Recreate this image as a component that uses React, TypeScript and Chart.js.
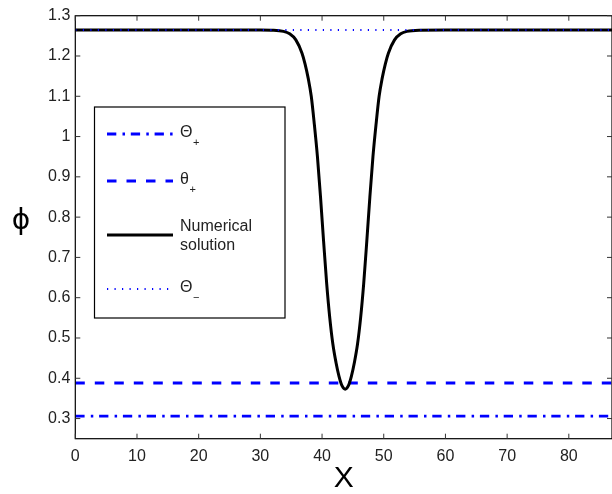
import { useEffect, useRef } from 'react';
import { Chart, registerables } from 'chart.js';

Chart.register(...registerables);

// ---- data ----
const X_MIN = 0;
const X_MAX = 87;
const Y_MIN = 0.25;
const Y_MAX = 1.3;
const X_TICKS = [0, 10, 20, 30, 40, 50, 60, 70, 80];
const Y_TICKS = [0.3, 0.4, 0.5, 0.6, 0.7, 0.8, 0.9, 1.0, 1.1, 1.2, 1.3];

const THETA_PLUS_BIG = 0.306; // Θ+ (dash-dot)
const THETA_PLUS_SMALL = 0.388; // θ+ (dashed)
const THETA_MINUS = 1.2645; // Θ− (dotted)

const NUM_X = [
  0, 10, 20, 30, 31.75, 33.75, 34.75, 35.75, 36.75, 37.25, 37.75, 38.25, 38.75, 39.25, 39.75, 40.25, 40.75,
  41.25, 41.75, 42.25, 42.75, 43.25, 43.75, 44.25, 44.75, 45.25, 45.75, 46.25, 46.75, 47.25, 47.75, 48.25,
  48.75, 49.25, 49.75, 50.25, 50.75, 51.75, 52.75, 53.75, 55.75, 60, 70, 80, 87,
];
const NUM_Y = [
  1.2645, 1.2645, 1.2645, 1.2645, 1.264, 1.261, 1.255, 1.24, 1.207, 1.18, 1.145, 1.1, 1.03, 0.95, 0.85, 0.74, 0.635,
  0.55, 0.485, 0.44, 0.405, 0.381, 0.373, 0.381, 0.405, 0.44, 0.485, 0.55, 0.635, 0.74, 0.85, 0.95,
  1.03, 1.1, 1.145, 1.18, 1.207, 1.24, 1.255, 1.261, 1.264, 1.2645, 1.2645, 1.2645, 1.2645,
];

const BLUE = '#0000ff';
const FONT = "'Liberation Sans', Arial, Helvetica, sans-serif";
const DASH_DOT = [9.3, 6.2, 2.5, 5.8];
const DASHED = [9.5, 10];
const DOTTED = [1.2, 6.3];

const hLine = (v: number) => [
  { x: X_MIN, y: v },
  { x: X_MAX, y: v },
];

const decorPlugin = {
  id: 'decor',
  afterDraw(chart: any) {
    const ctx: CanvasRenderingContext2D = chart.ctx;
    const { left, right, top, bottom } = chart.chartArea;
    const xs = chart.scales.x;
    const ys = chart.scales.y;
    ctx.save();
    // frame
    ctx.strokeStyle = '#000';
    ctx.lineWidth = 1.2;
    ctx.setLineDash([]);
    ctx.strokeRect(left, top, right - left, bottom - top);
    // inward ticks
    ctx.lineWidth = 1;
    ctx.strokeStyle = '#333';
    const tl = 5;
    X_TICKS.forEach((v) => {
      const p = xs.getPixelForValue(v);
      ctx.beginPath();
      ctx.moveTo(p, bottom);
      ctx.lineTo(p, bottom - tl);
      ctx.moveTo(p, top);
      ctx.lineTo(p, top + tl);
      ctx.stroke();
    });
    Y_TICKS.forEach((v) => {
      const p = ys.getPixelForValue(v);
      ctx.beginPath();
      ctx.moveTo(left, p);
      ctx.lineTo(left + tl, p);
      ctx.moveTo(right, p);
      ctx.lineTo(right - tl, p);
      ctx.stroke();
    });

    // axis titles
    ctx.fillStyle = '#000';
    ctx.textAlign = 'center';
    ctx.textBaseline = 'middle';
    ctx.font = `30px ${FONT}`;
    ctx.fillText('X', (left + right) / 2, 479);
    ctx.font = `28px 'DejaVu Sans', ${FONT}`;
    ctx.fillText('\u03D5', 21, 222);

    // legend box
    const bx = 94.5, by = 107, bw = 190.5, bh = 211;
    ctx.fillStyle = '#fff';
    ctx.fillRect(bx, by, bw, bh);
    ctx.strokeStyle = '#000';
    ctx.lineWidth = 1.2;
    ctx.strokeRect(bx, by, bw, bh);

    const x0 = 107, x1 = 173, tx = 180;
    const sample = (y: number, color: string, width: number, dash: number[]) => {
      ctx.strokeStyle = color;
      ctx.lineWidth = width;
      ctx.setLineDash(dash);
      ctx.beginPath();
      ctx.moveTo(x0, y);
      ctx.lineTo(x1, y);
      ctx.stroke();
      ctx.setLineDash([]);
    };
    const sym = (y: number, main: string, sub: string) => {
      ctx.fillStyle = '#222';
      ctx.textAlign = 'left';
      ctx.textBaseline = 'middle';
      ctx.font = `16px ${FONT}`;
      ctx.fillText(main, tx, y);
      const w = ctx.measureText(main).width;
      ctx.font = `11px ${FONT}`;
      ctx.fillText(sub, tx + w + 0.5, y + 10);
    };
    sample(134, BLUE, 2.8, DASH_DOT);
    sym(132.5, '\u0398', '+');
    sample(181, BLUE, 3, DASHED);
    sym(179.5, '\u03B8', '+');
    sample(235, '#000', 3, []);
    ctx.fillStyle = '#222';
    ctx.font = `16px ${FONT}`;
    ctx.textAlign = 'left';
    ctx.textBaseline = 'middle';
    ctx.fillText('Numerical', tx, 227);
    ctx.fillText('solution', tx, 246);
    sample(289, BLUE, 2.2, DOTTED);
    sym(288, '\u0398', '\u2212');
    ctx.restore();
  },
};

export default function App() {
  const canvasRef = useRef<HTMLCanvasElement | null>(null);

  useEffect(() => {
    const canvas = canvasRef.current;
    if (!canvas) return;
    const chart = new Chart(canvas, {
      type: 'line',
      data: {
        datasets: [
          {
            label: 'Θ−',
            data: hLine(THETA_MINUS),
            borderColor: BLUE,
            borderWidth: 2.2,
            borderDash: DOTTED,
            pointRadius: 0,
            order: 0,
          },
          {
            label: 'Numerical solution',
            data: NUM_X.map((x, i) => ({ x, y: NUM_Y[i] })),
            borderColor: '#000',
            borderWidth: 3,
            pointRadius: 0,
            cubicInterpolationMode: 'monotone',
            order: 1,
          },
          {
            label: 'θ+',
            data: hLine(THETA_PLUS_SMALL),
            borderColor: BLUE,
            borderWidth: 3,
            borderDash: DASHED,
            pointRadius: 0,
            order: 2,
          },
          {
            label: 'Θ+',
            data: hLine(THETA_PLUS_BIG),
            borderColor: BLUE,
            borderWidth: 2.8,
            borderDash: DASH_DOT,
            pointRadius: 0,
            order: 3,
          },
        ],
      },
      options: {
        animation: false,
        responsive: false,
        devicePixelRatio: 1,
        layout: { padding: { top: 15.7, left: 0, right: 0, bottom: 0 } },
        plugins: {
          legend: { display: false },
          tooltip: { enabled: false },
          title: { display: false },
        },
        scales: {
          x: {
            type: 'linear',
            min: X_MIN,
            max: X_MAX,
            grid: { display: false, drawTicks: false },
            border: { display: false },
            afterBuildTicks: (scale: any) => {
              scale.ticks = X_TICKS.map((value) => ({ value }));
            },
            afterFit: (scale: any) => {
              scale.height = 494 - 438.7;
            },
            ticks: {
              padding: 8,
              color: '#222',
              font: { family: FONT, size: 16 },
              callback: (v: any) => String(v),
            },
          },
          y: {
            type: 'linear',
            min: Y_MIN,
            max: Y_MAX,
            grid: { display: false, drawTicks: false },
            border: { display: false },
            afterBuildTicks: (scale: any) => {
              scale.ticks = Y_TICKS.map((value) => ({ value }));
            },
            afterFit: (scale: any) => {
              scale.width = 75.3;
            },
            ticks: {
              padding: 5,
              color: '#222',
              font: { family: FONT, size: 16 },
              callback: (v: any) => (Math.abs(v - 1) < 1e-9 ? '1' : Number(v).toFixed(1)),
            },
          },
        },
      },
      plugins: [decorPlugin],
    } as any);
    return () => chart.destroy();
  }, []);

  return (
    <div style={{ position: 'absolute', left: 0, top: 0, width: 612, height: 494, background: '#fff' }}>
      <canvas ref={canvasRef} width={612} height={494} style={{ display: 'block', width: 612, height: 494 }} />
    </div>
  );
}
